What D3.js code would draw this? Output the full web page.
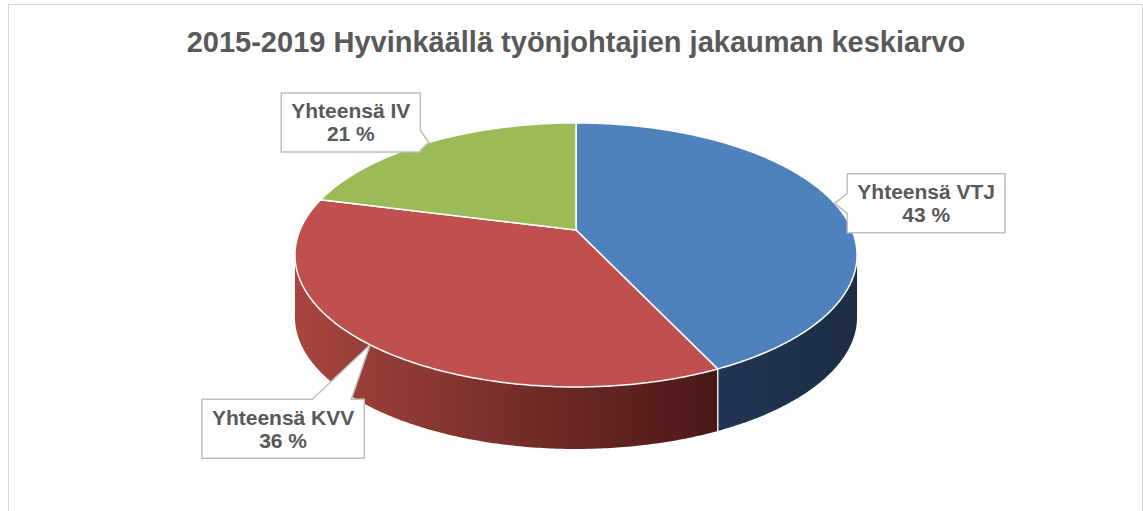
<!DOCTYPE html>
<html>
<head>
<meta charset="utf-8">
<script src="https://d3js.org/d3.v7.min.js"></script>
<style>
  body { margin: 0; background: #fff; }
  .title { font-family: "Liberation Sans", Arial, sans-serif; font-weight: bold; font-size: 29px; fill: #595959; }
  .lbl { font-family: "Liberation Sans", Arial, sans-serif; font-weight: bold; font-size: 21px; fill: #595959; }
</style>
</head>
<body>
<script>
// data
var categories = ["Yhteensä VTJ", "Yhteensä KVV", "Yhteensä IV"];
var shares = [43, 36, 21];
var pctLabels = ["43 %", "36 %", "21 %"];
var titleText = "2015-2019 Hyvinkäällä työnjohtajien jakauman keskiarvo";

// styles
var topColors = ["#4f81bd", "#c0504d", "#9bbb59"];
var wallColors = [["#213554", "#1c2d44"], ["#a7463f", "#4a1816"], ["#7d9a45", "#4a5e28"]];

var width = 1143, height = 511;

// pie geometry (perspective view of a circle)
var cx = 576, cy = 230, A = 276, B = 127.3, k = 0.189, depth = 62;

function project(t, dz) {
    var w = 1 + k * Math.cos(t);
    return [cx + A * Math.sin(t) / w, cy - B * Math.cos(t) / w + (dz || 0)];
}
function rim(a0, a1, dz) {
    var n = Math.max(2, Math.ceil(Math.abs(a1 - a0) / 0.01));
    return d3.range(n + 1).map(function(i) { return project(a0 + (a1 - a0) * i / n, dz); });
}

var svg = d3.select("body").append("svg")
    .attr("width", width)
    .attr("height", height);

var defs = svg.append("defs");

// chart border
svg.append("rect")
    .attr("x", 8.5).attr("y", 4.5)
    .attr("width", 1134).attr("height", 540)
    .attr("fill", "#fff")
    .attr("stroke", "#d9d9d9")
    .attr("stroke-width", 1);

svg.append("text")
    .attr("class", "title")
    .attr("x", cx)
    .attr("y", 52)
    .attr("text-anchor", "middle")
    .text(titleText);

var pie = d3.pie().sort(null).value(function(d) { return d; });
var arcs = pie(shares);

var line = d3.line();
var v0 = Math.PI / 2 + Math.asin(k), v1 = 3 * Math.PI / 2 - Math.asin(k);

arcs.forEach(function(a, i) {
    var g = defs.append("linearGradient")
        .attr("id", "wall" + i)
        .attr("x1", 0).attr("x2", 1).attr("y1", 0).attr("y2", 0);
    g.append("stop").attr("offset", 0).attr("stop-color", wallColors[i][0]);
    g.append("stop").attr("offset", 1).attr("stop-color", wallColors[i][1]);
});

// outer walls
var walls = svg.append("g");
arcs.forEach(function(a, i) {
    var s = Math.max(a.startAngle, v0), e = Math.min(a.endAngle, v1);
    if (s >= e) return;
    var pts = rim(s, e, 0).concat(rim(e, s, depth));
    walls.append("path")
        .attr("d", line(pts) + "Z")
        .attr("fill", "url(#wall" + i + ")");
});
// wall seams
arcs.forEach(function(a) {
    if (a.startAngle > v0 && a.startAngle < v1) {
        walls.append("path")
            .attr("d", line([project(a.startAngle, 0), project(a.startAngle, depth)]))
            .attr("stroke", "#e8e8e8")
            .attr("stroke-width", 1.5);
    }
});

// top faces
var tops = svg.append("g");
arcs.forEach(function(a, i) {
    var pts = [[cx, cy]].concat(rim(a.startAngle, a.endAngle, 0));
    tops.append("path")
        .attr("d", line(pts) + "Z")
        .attr("fill", topColors[i])
        .attr("stroke", "#fff")
        .attr("stroke-width", 1.5)
        .attr("stroke-linejoin", "round");
});

// data labels (callouts)
var labelOffsets = [[91.5, 0], [-87, 84], [-78, -20]];
var labels = svg.append("g");
arcs.forEach(function(a, i) {
    var mid = (a.startAngle + a.endAngle) / 2;
    var tip = project(mid, 0);
    var bx = tip[0] + labelOffsets[i][0], by = tip[1] + labelOffsets[i][1];

    var grp = labels.append("g");
    var box = grp.append("path");
    var t1 = grp.append("text").attr("class", "lbl")
        .attr("x", bx).attr("y", by - 4)
        .attr("text-anchor", "middle")
        .text(categories[i]);
    grp.append("text").attr("class", "lbl")
        .attr("x", bx).attr("y", by + 19)
        .attr("text-anchor", "middle")
        .text(pctLabels[i]);

    var w = t1.node().getComputedTextLength() + 20, h = 59;
    var x0 = bx - w / 2, x1 = bx + w / 2, y0 = by - h / 2, y1 = by + h / 2;
    var dx = (tip[0] - bx) / (w / 2), dy = (tip[1] - by) / (h / 2);
    var pts;
    function base(c, lo, hi) {
        var len = hi - lo, hw = Math.max(10, 0.12 * len);
        var m = Math.min(Math.max(c, lo + 0.2 * len), hi - 0.2 * len);
        return [m - hw, m + hw];
    }
    if (Math.abs(dy) > Math.abs(dx)) {
        var bb = base(tip[0], x0, x1);
        if (dy < 0) pts = [[x0, y0], [bb[0], y0], tip, [bb[1], y0], [x1, y0], [x1, y1], [x0, y1]];
        else pts = [[x0, y0], [x1, y0], [x1, y1], [bb[1], y1], tip, [bb[0], y1], [x0, y1]];
    } else {
        var bb2 = base(tip[1], y0, y1);
        if (dx > 0) pts = [[x0, y0], [x1, y0], [x1, bb2[0]], tip, [x1, bb2[1]], [x1, y1], [x0, y1]];
        else pts = [[x0, y0], [x1, y0], [x1, y1], [x0, y1], [x0, bb2[1]], tip, [x0, bb2[0]]];
    }
    box.attr("d", line(pts) + "Z")
        .attr("fill", "#fff")
        .attr("stroke", "#bfbfbf")
        .attr("stroke-width", 1.5);
});
</script>
</body>
</html>
